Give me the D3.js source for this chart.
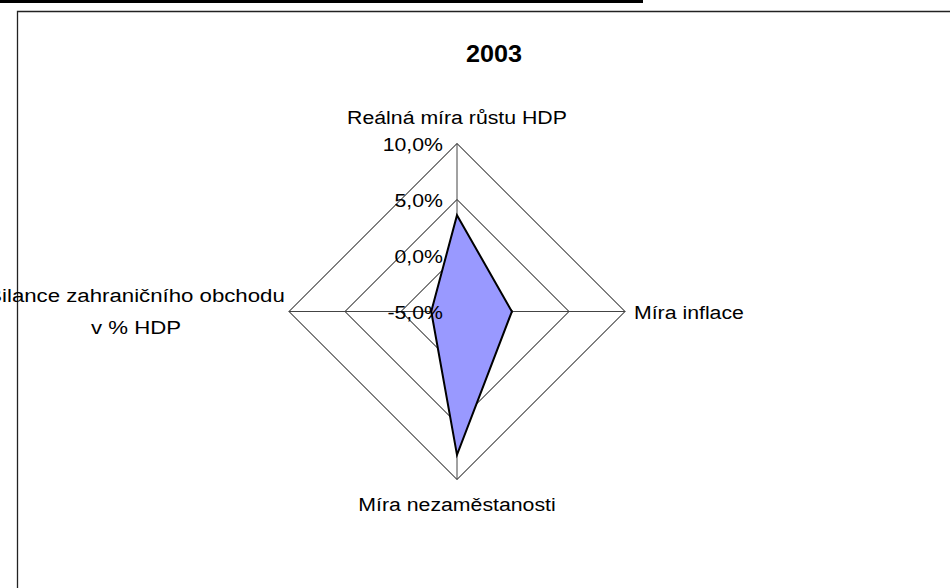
<!DOCTYPE html>
<html>
<head>
<meta charset="utf-8">
<script src="https://cdn.jsdelivr.net/npm/d3@7"></script>
<style>
  html, body { margin: 0; padding: 0; background: #fff; overflow: hidden; }
  text { font-family: "Liberation Sans", Arial, sans-serif; fill: #000; }
</style>
</head>
<body>
<div id="chart"></div>
<script>
// data for 2003
const title = "2003";
const axesNames = [
    ["Reálná míra růstu HDP"],
    ["Míra inflace"],
    ["Míra nezaměstanosti"],
    ["Bilance zahraničního obchodu", "v % HDP"]
];
const values = [3.6, -0.1, 7.8, -2.7];
const ticks = [-5, 0, 5, 10];
const tickLabels = ["-5,0%", "0,0%", "5,0%", "10,0%"];

const width = 950;
const height = 588;
const cx = 457, cy = 311.5, R = 168;
const fontSize = 19;
const stretch = 1.12; // text in the picture is a bit wider than Arial

const svg = d3.select("#chart").append("svg")
    .attr("width", width)
    .attr("height", height);

// black bar at the top and chart frame
svg.append("rect")
    .attr("x", 0).attr("y", 0)
    .attr("width", 643).attr("height", 3)
    .attr("fill", "#000");

svg.append("path")
    .attr("d", `M17.5,${height + 5}V11.5H${width + 5}`)
    .attr("fill", "none")
    .attr("stroke", "#222")
    .attr("stroke-width", 1.3);

// title
svg.append("text")
    .attr("x", 494)
    .attr("y", 62)
    .attr("text-anchor", "middle")
    .style("font-weight", "bold")
    .style("font-size", "24px")
    .attr("transform", "translate(494,0) scale(1.05,1) translate(-494,0)")
    .text(title);

const r = d3.scaleLinear().domain([-5, 10]).range([0, R]);
const angle = d3.scalePoint().domain(d3.range(axesNames.length)).range([0, 2 * Math.PI * (axesNames.length - 1) / axesNames.length]);

const g = svg.append("g").attr("transform", `translate(${cx},${cy})`);

// rings
const ring = d3.lineRadial()
    .angle((d, i) => angle(i))
    .radius(d => r(d))
    .curve(d3.curveLinearClosed);

g.append("g")
    .selectAll("path")
    .data(ticks.slice(1))
    .join("path")
    .attr("d", t => ring(axesNames.map(() => t)))
    .attr("fill", "none")
    .attr("stroke", "#000")
    .attr("stroke-width", 1);

// spokes
g.append("g")
    .selectAll("line")
    .data(axesNames)
    .join("line")
    .attr("x1", 0).attr("y1", 0)
    .attr("x2", (d, i) => r(10) * Math.sin(angle(i)))
    .attr("y2", (d, i) => -r(10) * Math.cos(angle(i)))
    .attr("stroke", "#444")
    .attr("stroke-width", 1);

// data polygon
g.append("path")
    .attr("d", ring(values))
    .attr("fill", "#9999ff")
    .attr("stroke", "#000")
    .attr("stroke-width", 2)
    .attr("stroke-linejoin", "miter");

// tick labels along the first axis
g.append("g")
    .selectAll("text")
    .data(ticks)
    .join("text")
    .attr("text-anchor", "end")
    .attr("transform", t => `translate(-14,${-r(t) + 7}) scale(${stretch},1)`)
    .style("font-size", fontSize + "px")
    .text((t, i) => tickLabels[i]);

// category labels
const labelPos = [
    { x: 0, y: -R - 20, anchor: "middle", sx: stretch },
    { x: R + 9, y: 7, anchor: "start", sx: stretch },
    { x: 0, y: R + 31, anchor: "middle", sx: stretch },
    { x: -321, y: -10, anchor: "middle", sx: 1.17 }
];

const labels = g.append("g")
    .selectAll("text")
    .data(axesNames)
    .join("text")
    .attr("text-anchor", (d, i) => labelPos[i].anchor)
    .attr("transform", (d, i) => `translate(${labelPos[i].x},${labelPos[i].y}) scale(${labelPos[i].sx},1)`)
    .style("font-size", fontSize + "px");

labels.selectAll("tspan")
    .data(d => d)
    .join("tspan")
    .attr("x", 0)
    .attr("dy", (d, i) => i === 0 ? 0 : 33)
    .text(d => d);
</script>
</body>
</html>
